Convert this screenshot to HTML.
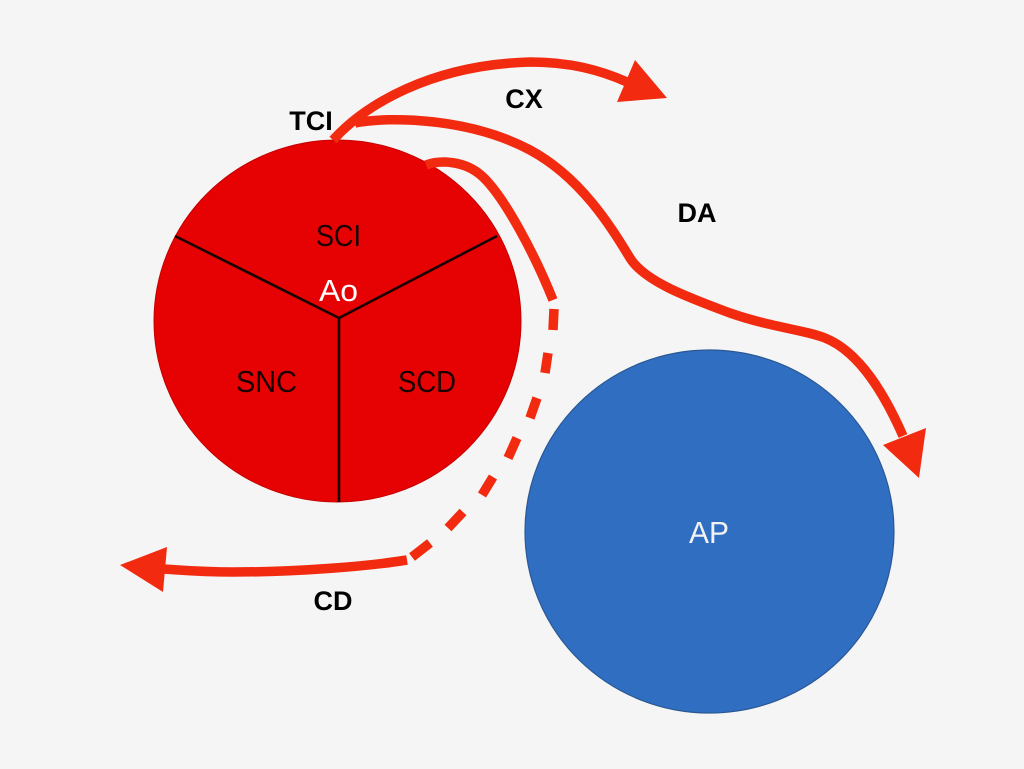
<!DOCTYPE html>
<html>
<head>
<meta charset="utf-8">
<style>
  html, body { margin: 0; padding: 0; background: #f5f5f5; }
  svg { display: block; }
</style>
</head>
<body>
<svg width="1024" height="769" viewBox="0 0 1024 769" xmlns="http://www.w3.org/2000/svg">
  <rect x="0" y="0" width="1024" height="769" fill="#f5f5f5"/>

  <!-- Aorta circle -->
  <ellipse cx="337.5" cy="321" rx="183.5" ry="181" fill="#e60202" stroke="#c40000" stroke-width="1"/>
  <!-- dividing lines -->
  <g stroke="#1a0000" stroke-width="2.6" fill="none" stroke-linecap="butt">
    <line x1="339" y1="318" x2="175" y2="236"/>
    <line x1="339" y1="318" x2="497" y2="236"/>
    <line x1="339" y1="318" x2="339" y2="502"/>
  </g>

  <!-- Pulmonary circle -->
  <ellipse cx="709.5" cy="531.5" rx="184.5" ry="181.5" fill="#306ec2" stroke="#2a5894" stroke-width="1.2"/>

  <!-- Inner labels -->
  <g font-family="'Liberation Sans', sans-serif" font-size="31" text-anchor="middle">
    <text x="338.5" y="246" fill="#1a0000" textLength="45" lengthAdjust="spacingAndGlyphs">SCI</text>
    <text x="338.5" y="301" fill="#ffffff" textLength="39" lengthAdjust="spacingAndGlyphs">Ao</text>
    <text x="266.5" y="392" fill="#1a0000" textLength="61" lengthAdjust="spacingAndGlyphs">SNC</text>
    <text x="427" y="392" fill="#1a0000" textLength="58" lengthAdjust="spacingAndGlyphs">SCD</text>
    <text x="709" y="543" fill="#f2f2f2" textLength="40" lengthAdjust="spacingAndGlyphs">AP</text>
  </g>

  <!-- Arteries -->
  <g stroke="#f22b10" stroke-width="9.5" fill="none" stroke-linecap="butt" stroke-linejoin="round">
    <!-- CX -->
    <path d="M333,140 C 365,105 430,65 530,62 C 570,62 600,70 627,82"/>
    <!-- DA -->
    <path d="M355,123 C 390,116 470,118 530,150 C 580,177 610,225 630,258 C 645,282 690,298 730,313 C 770,327 805,330 825,338 C 860,352 885,395 903,436"/>
    <!-- RCA solid -->
    <path d="M426,165 C 440,160 465,160 483,177 C 505,198 535,255 553,300"/>
    <!-- RCA dashes -->
    <line x1="554" y1="309" x2="553" y2="330"/>
    <line x1="548" y1="353" x2="545" y2="373"/>
    <line x1="537" y1="398" x2="530" y2="418"/>
    <line x1="517" y1="438" x2="508" y2="458"/>
    <line x1="493" y1="477" x2="482" y2="495"/>
    <line x1="463" y1="512" x2="448" y2="528"/>
    <line x1="430" y1="543" x2="412" y2="557"/>
    <!-- CD solid -->
    <path d="M407,560 C 370,566 300,572 233,572 C 200,572 180,570 163,569"/>
  </g>

  <!-- Arrowheads -->
  <g fill="#f22b10">
    <polygon points="667,98 635,60 617,102"/>
    <polygon points="919,478 883,445 926,428"/>
    <polygon points="120,565 167,547 163,592"/>
  </g>

  <!-- Outer labels -->
  <g font-family="'Liberation Sans', sans-serif" font-weight="bold" font-size="27" fill="#000" text-anchor="middle">
    <text x="311" y="130">TCI</text>
    <text x="524" y="108">CX</text>
    <text x="697" y="222">DA</text>
    <text x="333" y="610">CD</text>
  </g>
</svg>
</body>
</html>
